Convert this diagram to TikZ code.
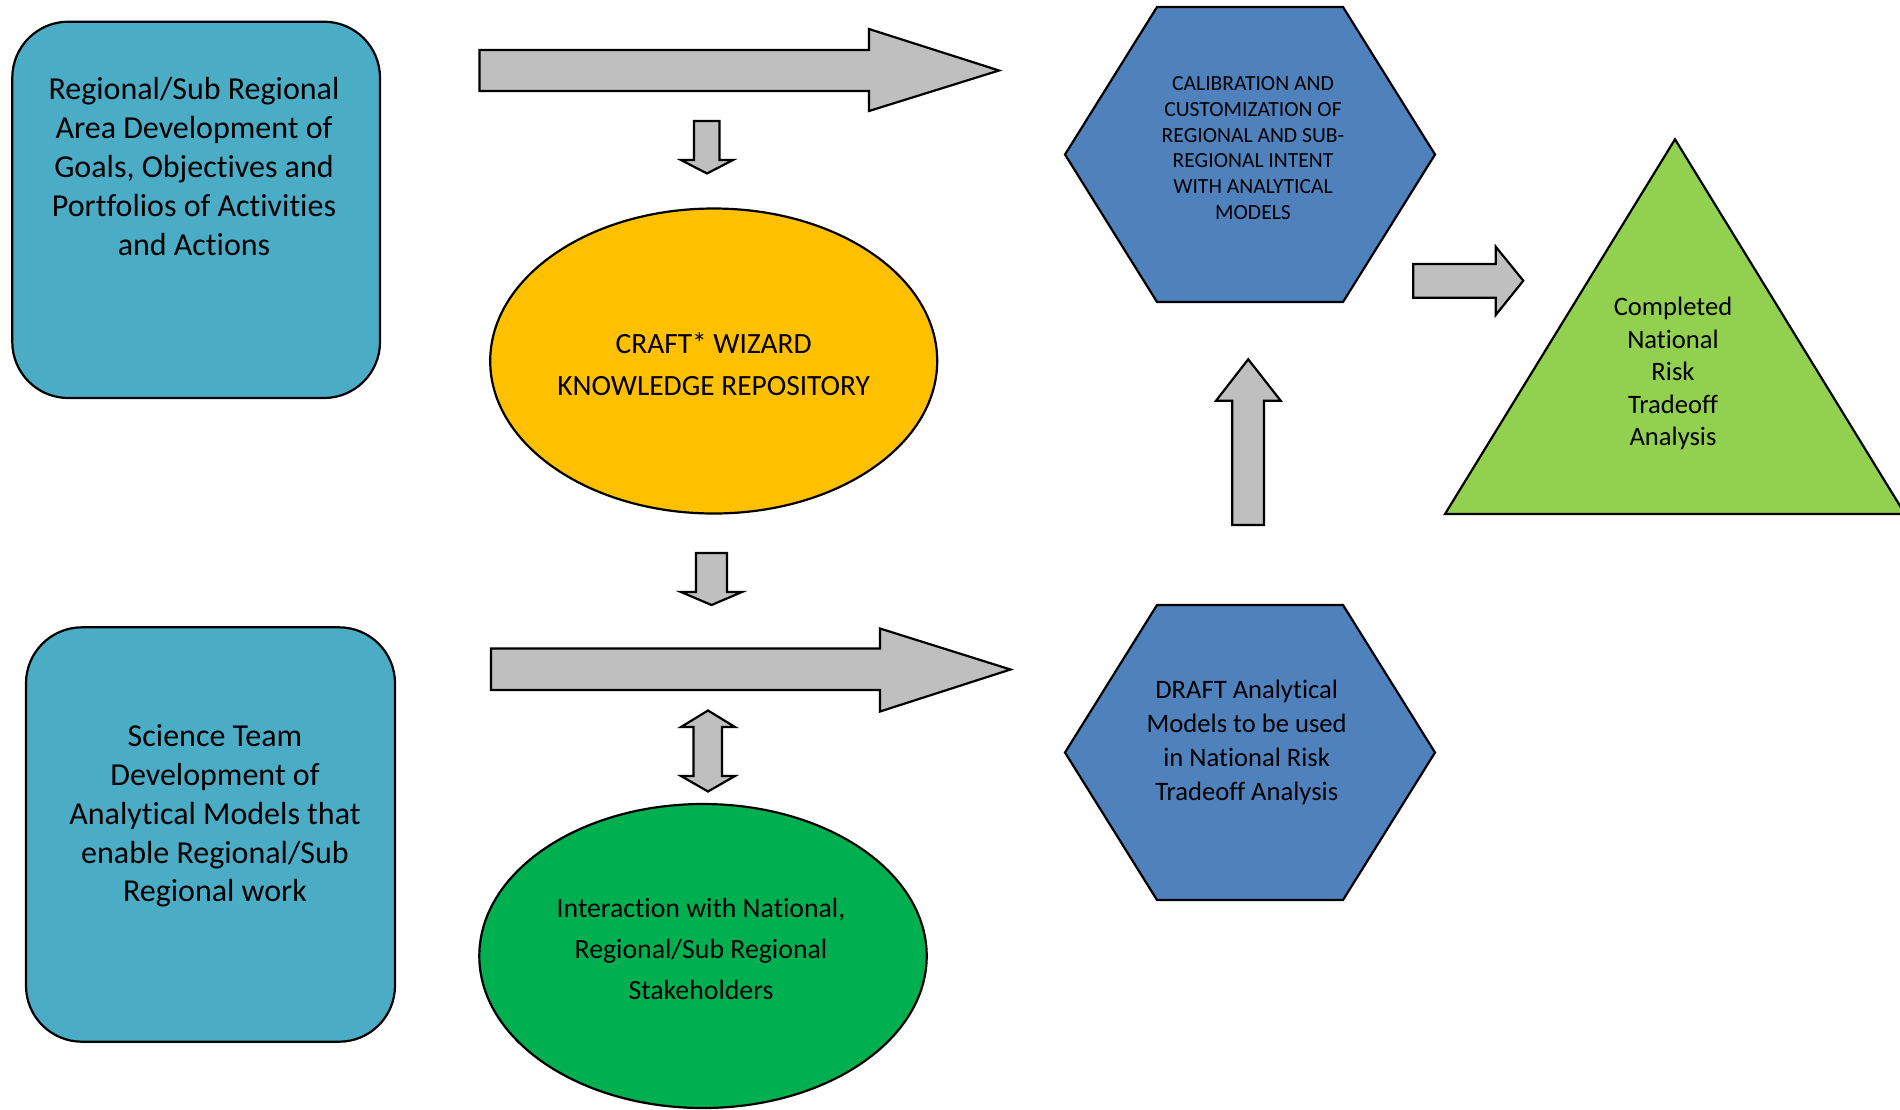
\documentclass[tikz,border=0pt]{standalone}
\usepackage{fontspec}
\setmainfont{Carlito}[Ligatures=NoCommon]
\usetikzlibrary{shapes.geometric}

\definecolor{boxteal}{HTML}{4BACC6}
\definecolor{repoorange}{HTML}{FFC000}
\definecolor{hexblue}{HTML}{4F81BD}
\definecolor{trigreen}{HTML}{92D050}
\definecolor{stakegreen}{HTML}{00B050}
\definecolor{arrowgray}{HTML}{BFBFBF}

\begin{document}
\begin{tikzpicture}[x=0.5pt,y=-0.5pt,
  outline/.style={draw=black,line width=1.1pt,line join=miter},
  tealbox/.style={outline,fill=boxteal,rounded corners=28pt},
  hexshape/.style={outline,fill=hexblue},
  blockarrow/.style={outline,fill=arrowgray},
  txt/.style={align=center,inner sep=0pt,text=black},
  bigtxt/.style={txt,font=\fontsize{16}{19.4}\selectfont},
  repotxt/.style={txt,font=\fontsize{14.7}{20.7}\selectfont},
  staketxt/.style={txt,font=\fontsize{13.9}{20.7}\selectfont},
  hexsmall/.style={txt,font=\fontsize{10.8}{12.9}\selectfont},
  hexmid/.style={txt,font=\fontsize{13.3}{16.9}\selectfont},
  tritxt/.style={txt,font=\fontsize{13.3}{16.3}\selectfont}]

\useasboundingbox (0,0) rectangle (1900,1109);
\clip (0,0) rectangle (1900,1109);

% ---- rounded boxes on the left
\draw[tealbox] (12.3,21.7) rectangle (380,398);
\node[bigtxt] (regional) at (194,166.5)
  {Regional/Sub Regional\\Area Development of\\Goals, Objectives and\\Portfolios of Activities\\and Actions};

\draw[tealbox] (26,627.3) rectangle (395,1041.7);
\node[bigtxt] (science) at (215,816)
  {Science Team\\Development of\\Analytical Models that\\enable Regional/Sub\\Regional work};

% ---- ellipses in the middle column
\draw[outline,fill=repoorange] (713.7,361) ellipse [x radius=223.5, y radius=152.5];
\node[repotxt] (craft) at (713.7,364)
  {CRAFT* WIZARD\\KNOWLEDGE REPOSITORY};

\draw[outline,fill=stakegreen] (703,956) ellipse [x radius=223.7, y radius=152];
\node[staketxt] (stake) at (701,949)
  {Interaction with National,\\Regional/Sub Regional\\Stakeholders};

% ---- hexagons
\draw[hexshape] (1065,154.5) -- (1157,7) -- (1343,7) -- (1435,154.5)
  -- (1343,302) -- (1157,302) -- cycle;
\node[hexsmall] (calib) at (1253,148)
  {CALIBRATION AND\\CUSTOMIZATION OF\\REGIONAL AND SUB-\\REGIONAL INTENT\\WITH ANALYTICAL\\MODELS};

\draw[hexshape] (1065,752.5) -- (1157,605) -- (1343,605) -- (1435,752.5)
  -- (1343,900) -- (1157,900) -- cycle;
\node[hexmid] (draft) at (1246.7,742.5)
  {DRAFT Analytical\\Models to be used\\in National Risk\\Tradeoff Analysis};

% ---- triangle
\draw[outline,fill=trigreen] (1675,139.3) -- (1905,514) -- (1445,514) -- cycle;
\node[tritxt] (done) at (1673,373.5)
  {Completed\\National\\Risk\\Tradeoff\\Analysis};

% ---- block arrows
% top horizontal
\draw[blockarrow] (479.5,50) -- (869,50) -- (869,29) -- (999,70.5)
  -- (869,111) -- (869,91) -- (479.5,91) -- cycle;
% down into the repository
\draw[blockarrow] (694,121) -- (719.5,121) -- (719.5,160) -- (733,160)
  -- (707,173.5) -- (681,160) -- (694,160) -- cycle;
% down out of the repository
\draw[blockarrow] (696,553) -- (727,553) -- (727,592) -- (742,592)
  -- (711.5,605) -- (681,592) -- (696,592) -- cycle;
% bottom horizontal
\draw[blockarrow] (491,648.5) -- (880,648.5) -- (880,628.5) -- (1010.5,669.5)
  -- (880,711.5) -- (880,690) -- (491,690) -- cycle;
% two-way link to stakeholders
\draw[blockarrow] (708,710.5) -- (735,727) -- (722,727) -- (722,776) -- (735,776)
  -- (708,791.5) -- (681,776) -- (693.5,776) -- (693.5,727) -- (681,727) -- cycle;
% up from draft models to calibration
\draw[blockarrow] (1248.2,359.3) -- (1280.7,400.7) -- (1264,400.7) -- (1264,525)
  -- (1232.3,525) -- (1232.3,400.7) -- (1216,400.7) -- cycle;
% right towards the completed analysis
\draw[blockarrow] (1413.3,264) -- (1495.7,264) -- (1495.7,246.7) -- (1523.3,280.7)
  -- (1495.7,315) -- (1495.7,297.7) -- (1413.3,297.7) -- cycle;
\end{tikzpicture}
\end{document}
